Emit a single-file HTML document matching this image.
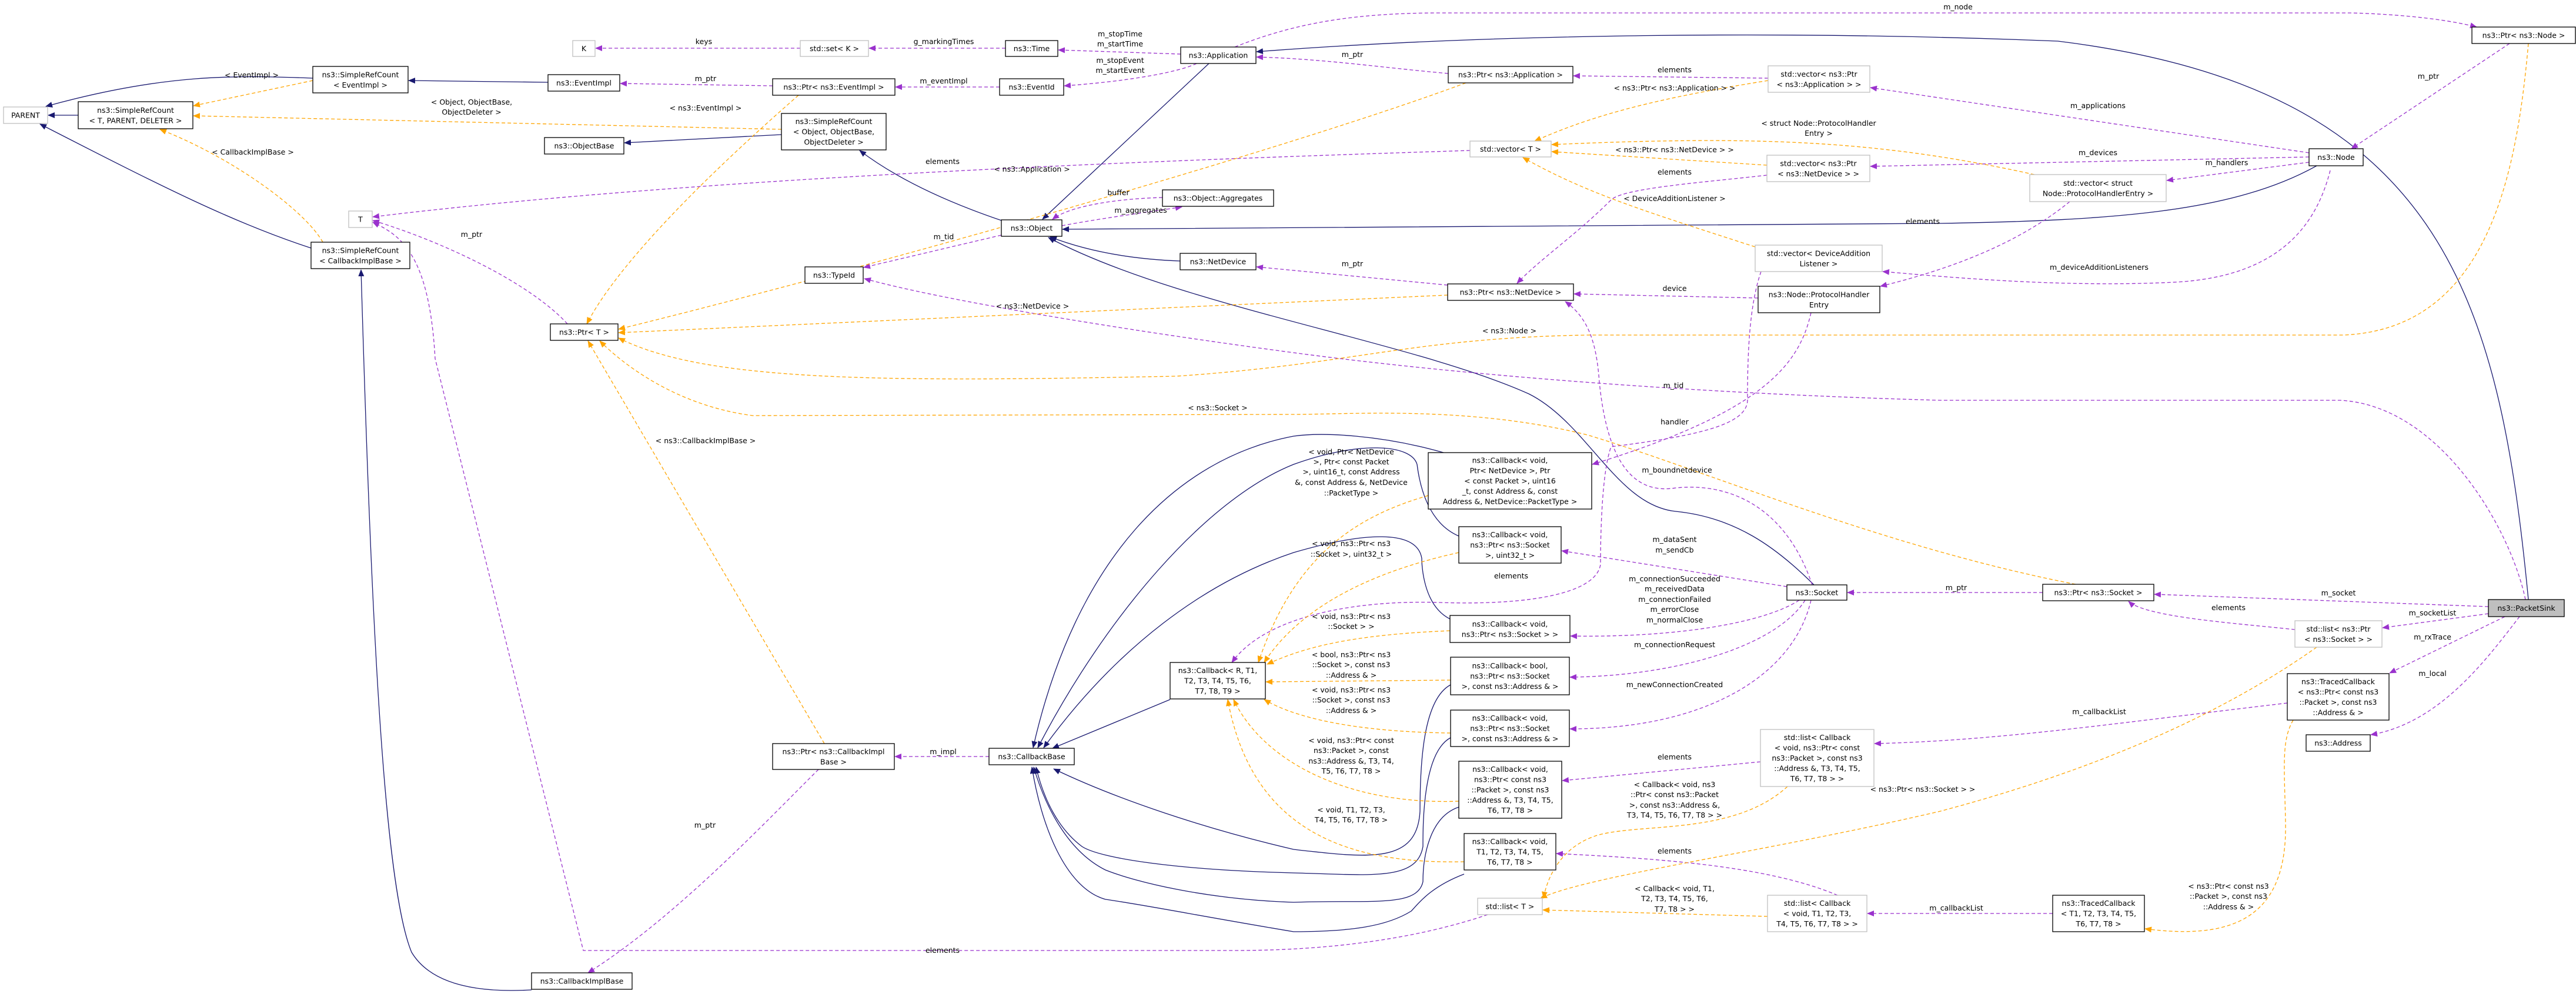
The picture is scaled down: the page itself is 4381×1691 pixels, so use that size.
<!DOCTYPE html>
<html><head><meta charset="utf-8"><style>
html,body{margin:0;padding:0;background:#fff;}
svg{display:block;}
text{font-family:"DejaVu Sans","Liberation Sans",sans-serif;font-size:12.5px;fill:#000;text-anchor:middle;}
.n{fill:#fff;stroke:#000;stroke-width:1.3;}
.g{fill:#fff;stroke:#bfbfbf;stroke-width:1.3;}
.inh{fill:none;stroke:#191970;stroke-width:1.3;marker-end:url(#an);}
.use{fill:none;stroke:#9a32cd;stroke-width:1.3;stroke-dasharray:6,4;marker-end:url(#ap);}
.tpl{fill:none;stroke:#ffa500;stroke-width:1.3;stroke-dasharray:6,4;marker-end:url(#ao);}
</style></head><body>
<svg width="4381" height="1691" viewBox="0 0 4381 1691" xmlns="http://www.w3.org/2000/svg">
<defs>
<marker id="an" markerWidth="12" markerHeight="10" refX="11" refY="5" orient="auto" markerUnits="userSpaceOnUse"><path d="M0,0 L12,5 L0,10 z" fill="#191970"/></marker>
<marker id="ap" markerWidth="12" markerHeight="10" refX="11" refY="5" orient="auto" markerUnits="userSpaceOnUse"><path d="M0,0 L12,5 L0,10 z" fill="#9a32cd"/></marker>
<marker id="ao" markerWidth="12" markerHeight="10" refX="11" refY="5" orient="auto" markerUnits="userSpaceOnUse"><path d="M0,0 L12,5 L0,10 z" fill="#ffa500"/></marker>
</defs>

<!-- inheritance -->
<path class="inh" d="M133,196 L82,196"/>
<path class="inh" d="M532,133 C400,128 280,125 78,181"/>
<path class="inh" d="M529,422 C400,380 280,320 68,211"/>
<path class="inh" d="M932,140 L695,137"/>
<path class="inh" d="M1329,229 L1062,243"/>
<path class="inh" d="M1703,375 C1600,340 1520,300 1462,256"/>
<path class="inh" d="M2056,108 L1773,373"/>
<path class="inh" d="M2007,444 C1900,440 1830,420 1786,403"/>
<path class="inh" d="M3940,282 C3800,360 3600,375 3300,380 L1807,390"/>
<path class="inh" d="M4300,1020 C4250,500 4150,150 3500,70 C3000,50 2500,60 2137,88"/>
<path class="inh" d="M3085,995 C3020,930 2950,880 2850,870 C2750,860 2700,720 2600,670 C2400,580 2000,520 1783,404"/>
<path class="inh" d="M1990,1190 L1790,1273"/>
<path class="inh" d="M2455,770 C2350,740 2250,735 2200,742 C2000,780 1830,950 1757,1272"/>
<path class="inh" d="M2481,912 C2430,890 2415,830 2410,790 C2400,755 2310,750 2200,790 C2050,850 1880,1050 1765,1272"/>
<path class="inh" d="M2466,1053 C2420,1030 2418,960 2418,950 C2410,900 2320,905 2200,940 C2050,990 1900,1100 1775,1272"/>
<path class="inh" d="M2467,1165 C2420,1190 2415,1300 2415,1380 C2410,1470 2330,1460 2200,1445 C2050,1410 1900,1360 1792,1308"/>
<path class="inh" d="M2467,1255 C2420,1280 2420,1400 2420,1440 C2410,1500 2330,1488 2200,1485 C2000,1480 1870,1460 1840,1440 C1800,1410 1775,1360 1762,1305"/>
<path class="inh" d="M2481,1373 C2430,1390 2420,1460 2420,1500 C2410,1545 2330,1530 2200,1535 C2050,1530 1930,1500 1880,1480 C1820,1450 1780,1380 1758,1305"/>
<path class="inh" d="M2490,1487 C2430,1510 2410,1540 2400,1550 C2360,1575 2300,1585 2200,1585 C2050,1560 1950,1540 1880,1530 C1810,1510 1770,1400 1755,1305"/>
<path class="inh" d="M904,1684 C800,1690 730,1670 700,1620 C650,1500 630,1000 614,459"/>

<!-- usage (purple) -->
<path class="use" d="M1361,82 L1013,82"/>
<path class="use" d="M1710,82 L1478,82"/>
<path class="use" d="M2008,92 L1800,85"/>
<path class="use" d="M2035,108 C2000,125 1900,140 1810,146"/>
<path class="use" d="M1700,148 L1523,148"/>
<path class="use" d="M1314,146 L1055,142"/>
<path class="use" d="M1806,384 C1880,370 1960,360 2010,352"/>
<path class="use" d="M1977,336 C1900,338 1820,350 1790,373"/>
<path class="use" d="M1703,400 L1469,455"/>
<path class="use" d="M4295,1020 C4270,900 4150,690 3980,681 L3300,681 C2900,670 2500,640 2200,600 C1900,560 1600,510 1470,474"/>
<path class="use" d="M2463,125 C2350,115 2250,100 2137,97"/>
<path class="use" d="M3007,133 L2676,129"/>
<path class="use" d="M3927,260 L3181,149"/>
<path class="use" d="M3927,267 L3181,283"/>
<path class="use" d="M3927,276 L3685,307"/>
<path class="use" d="M3963,290 C3940,380 3880,470 3700,480 C3500,490 3300,470 3202,462"/>
<path class="use" d="M4268,74 L3999,253"/>
<path class="use" d="M2100,80 C2200,40 2300,22 2450,22 L4000,22 C4100,25 4170,35 4212,46"/>
<path class="use" d="M2500,256 C2000,272 1200,300 634,369"/>
<path class="use" d="M965,551 C900,480 750,410 634,375"/>
<path class="use" d="M3005,298 C2900,310 2760,320 2740,340 C2680,400 2620,440 2580,482"/>
<path class="use" d="M2990,507 L2677,500"/>
<path class="use" d="M2462,485 L2137,454"/>
<path class="use" d="M3520,343 C3450,400 3350,450 3198,487"/>
<path class="use" d="M3080,532 C3060,620 3000,700 2708,790"/>
<path class="use" d="M3082,995 C3040,870 2950,820 2850,830 C2760,845 2730,750 2720,650 C2715,580 2700,540 2662,513"/>
<path class="use" d="M2995,462 C2975,520 2972,600 2972,680 C2972,720 2900,740 2740,760 C2725,800 2722,900 2722,960 C2715,1010 2600,1030 2450,1025 C2300,1020 2150,1050 2095,1127"/>
<path class="use" d="M3039,998 L2656,937"/>
<path class="use" d="M3060,1021 C3000,1060 2850,1085 2671,1082"/>
<path class="use" d="M3070,1021 C3020,1100 2850,1150 2670,1152"/>
<path class="use" d="M3080,1021 C3050,1150 2900,1240 2670,1240"/>
<path class="use" d="M3474,1008 L3142,1008"/>
<path class="use" d="M4232,1032 L3664,1011"/>
<path class="use" d="M4232,1044 L4052,1068"/>
<path class="use" d="M3903,1071 C3800,1060 3650,1050 3620,1023"/>
<path class="use" d="M4260,1049 L4064,1145"/>
<path class="use" d="M4285,1049 C4230,1120 4150,1230 4032,1250"/>
<path class="use" d="M3890,1196 C3600,1230 3400,1260 3188,1265"/>
<path class="use" d="M2994,1296 L2657,1328"/>
<path class="use" d="M3125,1523 C3000,1470 2800,1460 2647,1452"/>
<path class="use" d="M3491,1554 L3176,1554"/>
<path class="use" d="M2530,1556 C2400,1600 2250,1617 2100,1617 L992,1617 L740,610 C730,430 680,400 634,378"/>
<path class="use" d="M1392,1309 C1300,1400 1150,1560 1000,1655"/>
<path class="use" d="M1682,1287 L1522,1287"/>

<!-- template (orange) -->
<path class="tpl" d="M532,137 L329,180"/>
<path class="tpl" d="M1329,220 L329,197"/>
<path class="tpl" d="M549,412 C520,360 400,270 272,220"/>
<path class="tpl" d="M1358,162 C1200,300 1050,450 998,551"/>
<path class="tpl" d="M2493,141 C2200,250 1500,450 1052,560"/>
<path class="tpl" d="M2462,502 L1052,566"/>
<path class="tpl" d="M4300,74 C4280,300 4230,560 3985,570 L2700,570 C2400,575 2300,620 2000,640 C1500,650 1200,650 1052,575"/>
<path class="tpl" d="M3530,994 C3200,930 2900,800 2700,740 C2500,690 2300,705 2200,705 L1280,707 C1150,690 1060,620 1020,580"/>
<path class="tpl" d="M1402,1265 L1000,580"/>
<path class="tpl" d="M3007,137 C2800,170 2700,200 2610,240"/>
<path class="tpl" d="M3460,297 C3200,240 3000,230 2639,246"/>
<path class="tpl" d="M3005,281 L2639,258"/>
<path class="tpl" d="M2985,420 C2800,360 2700,330 2590,268"/>
<path class="tpl" d="M2429,843 C2300,880 2200,950 2140,1127"/>
<path class="tpl" d="M2481,940 C2300,980 2200,1050 2150,1127"/>
<path class="tpl" d="M2466,1073 C2300,1080 2220,1100 2155,1130"/>
<path class="tpl" d="M2467,1157 L2153,1160"/>
<path class="tpl" d="M2467,1247 C2300,1245 2200,1220 2150,1190"/>
<path class="tpl" d="M2481,1363 C2300,1370 2150,1300 2098,1190"/>
<path class="tpl" d="M2490,1466 C2300,1470 2130,1420 2088,1190"/>
<path class="tpl" d="M3040,1338 C2950,1420 2800,1400 2720,1420 C2650,1440 2630,1500 2625,1528"/>
<path class="tpl" d="M3006,1559 L2624,1548"/>
<path class="tpl" d="M3940,1101 C3800,1200 3600,1300 3300,1380 C3000,1450 2700,1490 2620,1528"/>
<path class="tpl" d="M3900,1225 C3880,1260 3885,1300 3887,1400 C3890,1560 3800,1600 3648,1580"/>

<!-- edge labels -->
<text x="428" y="132">&lt; EventImpl &gt;</text>
<text x="802" y="178">&lt; Object, ObjectBase,</text>
<text x="802" y="195">ObjectDeleter &gt;</text>
<text x="430" y="263">&lt; CallbackImplBase &gt;</text>
<text x="802" y="403">m_ptr</text>
<text x="1197" y="75">keys</text>
<text x="1200" y="138">m_ptr</text>
<text x="1200" y="188">&lt; ns3::EventImpl &gt;</text>
<text x="1605" y="75">g_markingTimes</text>
<text x="1605" y="142">m_eventImpl</text>
<text x="1905" y="62">m_stopTime</text>
<text x="1905" y="79">m_startTime</text>
<text x="1905" y="107">m_stopEvent</text>
<text x="1905" y="124">m_startEvent</text>
<text x="1603" y="279">elements</text>
<text x="1755" y="292">&lt; ns3::Application &gt;</text>
<text x="1902" y="332">buffer</text>
<text x="1940" y="362">m_aggregates</text>
<text x="1605" y="407">m_tid</text>
<text x="1756" y="525">&lt; ns3::NetDevice &gt;</text>
<text x="2300" y="97">m_ptr</text>
<text x="3330" y="16">m_node</text>
<text x="2848" y="123">elements</text>
<text x="2848" y="154">&lt; ns3::Ptr&lt; ns3::Application &gt; &gt;</text>
<text x="3093" y="214">&lt; struct Node::ProtocolHandler</text>
<text x="3093" y="231">Entry &gt;</text>
<text x="2848" y="259">&lt; ns3::Ptr&lt; ns3::NetDevice &gt; &gt;</text>
<text x="2848" y="297">elements</text>
<text x="2848" y="342">&lt; DeviceAdditionListener &gt;</text>
<text x="2300" y="453">m_ptr</text>
<text x="2848" y="495">device</text>
<text x="2567" y="567">&lt; ns3::Node &gt;</text>
<text x="4130" y="134">m_ptr</text>
<text x="3568" y="184">m_applications</text>
<text x="3568" y="264">m_devices</text>
<text x="3787" y="281">m_handlers</text>
<text x="3270" y="381">elements</text>
<text x="3570" y="459">m_deviceAdditionListeners</text>
<text x="2846" y="660">m_tid</text>
<text x="2071" y="698">&lt; ns3::Socket &gt;</text>
<text x="1200" y="754">&lt; ns3::CallbackImplBase &gt;</text>
<text x="2848" y="722">handler</text>
<text x="2852" y="804">m_boundnetdevice</text>
<text x="2298" y="773">&lt; void, Ptr&lt; NetDevice</text>
<text x="2298" y="790">&gt;, Ptr&lt; const Packet</text>
<text x="2298" y="807">&gt;, uint16_t, const Address</text>
<text x="2298" y="825">&amp;, const Address &amp;, NetDevice</text>
<text x="2298" y="843">::PacketType &gt;</text>
<text x="2298" y="929">&lt; void, ns3::Ptr&lt; ns3</text>
<text x="2298" y="947">::Socket &gt;, uint32_t &gt;</text>
<text x="2570" y="984">elements</text>
<text x="2848" y="922">m_dataSent</text>
<text x="2848" y="940">m_sendCb</text>
<text x="2848" y="989">m_connectionSucceeded</text>
<text x="2848" y="1006">m_receivedData</text>
<text x="2848" y="1024">m_connectionFailed</text>
<text x="2848" y="1041">m_errorClose</text>
<text x="2848" y="1059">m_normalClose</text>
<text x="2848" y="1101">m_connectionRequest</text>
<text x="2848" y="1169">m_newConnectionCreated</text>
<text x="2298" y="1053">&lt; void, ns3::Ptr&lt; ns3</text>
<text x="2298" y="1070">::Socket &gt; &gt;</text>
<text x="2298" y="1118">&lt; bool, ns3::Ptr&lt; ns3</text>
<text x="2298" y="1135">::Socket &gt;, const ns3</text>
<text x="2298" y="1153">::Address &amp; &gt;</text>
<text x="2298" y="1178">&lt; void, ns3::Ptr&lt; ns3</text>
<text x="2298" y="1195">::Socket &gt;, const ns3</text>
<text x="2298" y="1213">::Address &amp; &gt;</text>
<text x="2298" y="1264">&lt; void, ns3::Ptr&lt; const</text>
<text x="2298" y="1281">ns3::Packet &gt;, const</text>
<text x="2298" y="1299">ns3::Address &amp;, T3, T4,</text>
<text x="2298" y="1316">T5, T6, T7, T8 &gt;</text>
<text x="2298" y="1382">&lt; void, T1, T2, T3,</text>
<text x="2298" y="1399">T4, T5, T6, T7, T8 &gt;</text>
<text x="1604" y="1283">m_impl</text>
<text x="1199" y="1408">m_ptr</text>
<text x="1603" y="1621">elements</text>
<text x="3327" y="1004">m_ptr</text>
<text x="3977" y="1013">m_socket</text>
<text x="4137" y="1047">m_socketList</text>
<text x="3790" y="1038">elements</text>
<text x="4137" y="1088">m_rxTrace</text>
<text x="4137" y="1150">m_local</text>
<text x="3570" y="1215">m_callbackList</text>
<text x="2848" y="1292">elements</text>
<text x="2848" y="1339">&lt; Callback&lt; void, ns3</text>
<text x="2848" y="1356">::Ptr&lt; const ns3::Packet</text>
<text x="2848" y="1374">&gt;, const ns3::Address &amp;,</text>
<text x="2848" y="1391">T3, T4, T5, T6, T7, T8 &gt; &gt;</text>
<text x="3270" y="1347">&lt; ns3::Ptr&lt; ns3::Socket &gt; &gt;</text>
<text x="2848" y="1452">elements</text>
<text x="2848" y="1516">&lt; Callback&lt; void, T1,</text>
<text x="2848" y="1533">T2, T3, T4, T5, T6,</text>
<text x="2848" y="1551">T7, T8 &gt; &gt;</text>
<text x="3327" y="1549">m_callbackList</text>
<text x="3790" y="1512">&lt; ns3::Ptr&lt; const ns3</text>
<text x="3790" y="1529">::Packet &gt;, const ns3</text>
<text x="3790" y="1547">::Address &amp; &gt;</text>

<!-- nodes -->
<rect class="g" x="6" y="182" width="75" height="28"/><text x="43.5" y="200.5">PARENT</text>
<rect class="n" x="133" y="173" width="195" height="46"/><text x="230.5" y="191.75">ns3::SimpleRefCount</text><text x="230.5" y="209.25">&lt; T, PARENT, DELETER &gt;</text>
<rect class="n" x="532" y="113" width="162" height="45"/><text x="613" y="131.25">ns3::SimpleRefCount</text><text x="613" y="148.75">&lt; EventImpl &gt;</text>
<rect class="n" x="932" y="127" width="122" height="28"/><text x="993" y="145.5">ns3::EventImpl</text>
<rect class="g" x="974" y="69" width="38" height="27"/><text x="993" y="87">K</text>
<rect class="n" x="926" y="234" width="135" height="28"/><text x="993.5" y="252.5">ns3::ObjectBase</text>
<rect class="g" x="593" y="359" width="40" height="28"/><text x="613" y="377.5">T</text>
<rect class="n" x="529" y="412" width="168" height="45"/><text x="613" y="430.25">ns3::SimpleRefCount</text><text x="613" y="447.75">&lt; CallbackImplBase &gt;</text>
<rect class="n" x="936" y="551" width="115" height="28"/><text x="993.5" y="569.5">ns3::Ptr&lt; T &gt;</text>
<rect class="g" x="1361" y="69" width="116" height="27"/><text x="1419" y="87">std::set&lt; K &gt;</text>
<rect class="n" x="1710" y="69" width="89" height="27"/><text x="1754.5" y="87">ns3::Time</text>
<rect class="n" x="2008" y="80" width="128" height="28"/><text x="2072" y="98.5">ns3::Application</text>
<rect class="n" x="1314" y="134" width="208" height="28"/><text x="1418" y="152.5">ns3::Ptr&lt; ns3::EventImpl &gt;</text>
<rect class="n" x="1700" y="134" width="109" height="28"/><text x="1754.5" y="152.5">ns3::EventId</text>
<rect class="n" x="1329" y="193" width="178" height="62"/><text x="1418" y="211">ns3::SimpleRefCount</text><text x="1418" y="228.5">&lt; Object, ObjectBase,</text><text x="1418" y="246">ObjectDeleter &gt;</text>
<rect class="n" x="1977" y="323" width="189" height="28"/><text x="2071.5" y="341.5">ns3::Object::Aggregates</text>
<rect class="n" x="1703" y="374" width="103" height="28"/><text x="1754.5" y="392.5">ns3::Object</text>
<rect class="n" x="2007" y="431" width="129" height="28"/><text x="2071.5" y="449.5">ns3::NetDevice</text>
<rect class="n" x="1369" y="454" width="99" height="28"/><text x="1418.5" y="472.5">ns3::TypeId</text>
<rect class="n" x="2463" y="113" width="212" height="28"/><text x="2569" y="131.5">ns3::Ptr&lt; ns3::Application &gt;</text>
<rect class="g" x="3007" y="112" width="173" height="45"/><text x="3093.5" y="130.25">std::vector&lt; ns3::Ptr</text><text x="3093.5" y="147.75">&lt; ns3::Application &gt; &gt;</text>
<rect class="g" x="2500" y="240" width="138" height="27"/><text x="2569" y="258">std::vector&lt; T &gt;</text>
<rect class="g" x="3005" y="264" width="175" height="45"/><text x="3092.5" y="282.25">std::vector&lt; ns3::Ptr</text><text x="3092.5" y="299.75">&lt; ns3::NetDevice &gt; &gt;</text>
<rect class="g" x="2985" y="417" width="216" height="45"/><text x="3093" y="435.25">std::vector&lt; DeviceAddition</text><text x="3093" y="452.75">Listener &gt;</text>
<rect class="n" x="2462" y="483" width="214" height="28"/><text x="2569" y="501.5">ns3::Ptr&lt; ns3::NetDevice &gt;</text>
<rect class="n" x="2990" y="487" width="207" height="45"/><text x="3093.5" y="505.25">ns3::Node::ProtocolHandler</text><text x="3093.5" y="522.75">Entry</text>
<rect class="n" x="4204" y="46" width="176" height="28"/><text x="4292" y="64.5">ns3::Ptr&lt; ns3::Node &gt;</text>
<rect class="n" x="3927" y="253" width="92" height="29"/><text x="3973" y="272">ns3::Node</text>
<rect class="g" x="3452" y="297" width="232" height="46"/><text x="3568" y="315.75">std::vector&lt; struct</text><text x="3568" y="333.25">Node::ProtocolHandlerEntry &gt;</text>
<rect class="n" x="904" y="1655" width="171" height="28"/><text x="989.5" y="1673.5">ns3::CallbackImplBase</text>
<rect class="n" x="1314" y="1265" width="207" height="44"/><text x="1417.5" y="1282.75">ns3::Ptr&lt; ns3::CallbackImpl</text><text x="1417.5" y="1300.25">Base &gt;</text>
<rect class="n" x="1682" y="1273" width="145" height="28"/><text x="1754.5" y="1291.5">ns3::CallbackBase</text>
<rect class="n" x="1990" y="1127" width="162" height="62"/><text x="2071" y="1145">ns3::Callback&lt; R, T1,</text><text x="2071" y="1162.5">T2, T3, T4, T5, T6,</text><text x="2071" y="1180">T7, T8, T9 &gt;</text>
<rect class="n" x="2429" y="770" width="278" height="96"/><text x="2568" y="787.5">ns3::Callback&lt; void,</text><text x="2568" y="805">Ptr&lt; NetDevice &gt;, Ptr</text><text x="2568" y="822.5">&lt; const Packet &gt;, uint16</text><text x="2568" y="840">_t, const Address &amp;, const</text><text x="2568" y="857.5">Address &amp;, NetDevice::PacketType &gt;</text>
<rect class="n" x="2481" y="896" width="174" height="62"/><text x="2568" y="914">ns3::Callback&lt; void,</text><text x="2568" y="931.5">ns3::Ptr&lt; ns3::Socket</text><text x="2568" y="949">&gt;, uint32_t &gt;</text>
<rect class="n" x="3039" y="995" width="102" height="26"/><text x="3090" y="1012.5">ns3::Socket</text>
<rect class="n" x="2466" y="1047" width="204" height="46"/><text x="2568" y="1065.75">ns3::Callback&lt; void,</text><text x="2568" y="1083.25">ns3::Ptr&lt; ns3::Socket &gt; &gt;</text>
<rect class="n" x="2467" y="1118" width="202" height="64"/><text x="2568" y="1137">ns3::Callback&lt; bool,</text><text x="2568" y="1154.5">ns3::Ptr&lt; ns3::Socket</text><text x="2568" y="1172">&gt;, const ns3::Address &amp; &gt;</text>
<rect class="n" x="2467" y="1208" width="202" height="62"/><text x="2568" y="1226">ns3::Callback&lt; void,</text><text x="2568" y="1243.5">ns3::Ptr&lt; ns3::Socket</text><text x="2568" y="1261">&gt;, const ns3::Address &amp; &gt;</text>
<rect class="n" x="2481" y="1295" width="175" height="97"/><text x="2568.5" y="1313">ns3::Callback&lt; void,</text><text x="2568.5" y="1330.5">ns3::Ptr&lt; const ns3</text><text x="2568.5" y="1348">::Packet &gt;, const ns3</text><text x="2568.5" y="1365.5">::Address &amp;, T3, T4, T5,</text><text x="2568.5" y="1383">T6, T7, T8 &gt;</text>
<rect class="n" x="2490" y="1418" width="156" height="62"/><text x="2568" y="1436">ns3::Callback&lt; void,</text><text x="2568" y="1453.5">T1, T2, T3, T4, T5,</text><text x="2568" y="1471">T6, T7, T8 &gt;</text>
<rect class="g" x="2513" y="1528" width="110" height="28"/><text x="2568" y="1546.5">std::list&lt; T &gt;</text>
<rect class="g" x="2994" y="1241" width="193" height="97"/><text x="3090.5" y="1259">std::list&lt; Callback</text><text x="3090.5" y="1276.5">&lt; void, ns3::Ptr&lt; const</text><text x="3090.5" y="1294">ns3::Packet &gt;, const ns3</text><text x="3090.5" y="1311.5">::Address &amp;, T3, T4, T5,</text><text x="3090.5" y="1329">T6, T7, T8 &gt; &gt;</text>
<rect class="g" x="3006" y="1523" width="169" height="62"/><text x="3090.5" y="1541">std::list&lt; Callback</text><text x="3090.5" y="1558.5">&lt; void, T1, T2, T3,</text><text x="3090.5" y="1576">T4, T5, T6, T7, T8 &gt; &gt;</text>
<rect x="4232" y="1020" width="129" height="29" fill="#bfbfbf" stroke="#000" stroke-width="1.3"/><text x="4296.5" y="1039">ns3::PacketSink</text>
<rect class="n" x="3474" y="994" width="189" height="28"/><text x="3568.5" y="1012.5">ns3::Ptr&lt; ns3::Socket &gt;</text>
<rect class="g" x="3903" y="1056" width="148" height="45"/><text x="3977" y="1074.25">std::list&lt; ns3::Ptr</text><text x="3977" y="1091.75">&lt; ns3::Socket &gt; &gt;</text>
<rect class="n" x="3890" y="1146" width="173" height="79"/><text x="3976.5" y="1163.75">ns3::TracedCallback</text><text x="3976.5" y="1181.25">&lt; ns3::Ptr&lt; const ns3</text><text x="3976.5" y="1198.75">::Packet &gt;, const ns3</text><text x="3976.5" y="1216.25">::Address &amp; &gt;</text>
<rect class="n" x="3922" y="1250" width="109" height="28"/><text x="3976.5" y="1268.5">ns3::Address</text>
<rect class="n" x="3491" y="1523" width="156" height="62"/><text x="3569" y="1541">ns3::TracedCallback</text><text x="3569" y="1558.5">&lt; T1, T2, T3, T4, T5,</text><text x="3569" y="1576">T6, T7, T8 &gt;</text>
</svg>
</body></html>
